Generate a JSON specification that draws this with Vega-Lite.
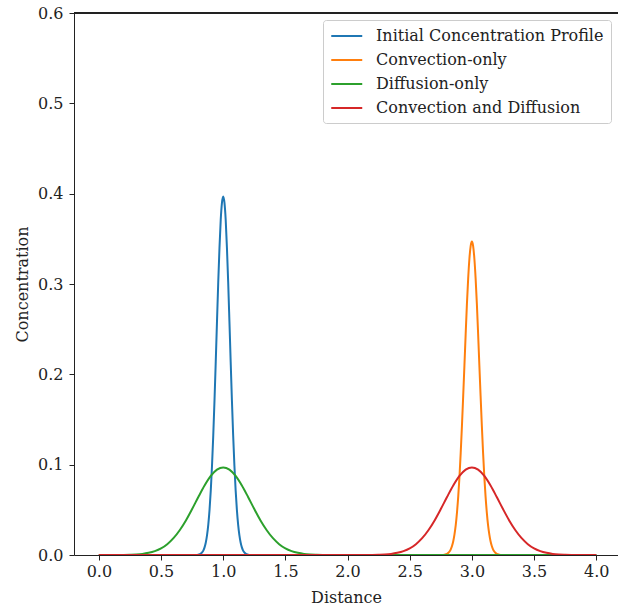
{
  "$schema": "https://vega.github.io/schema/vega-lite/v6.json",
  "width": 544,
  "height": 542,
  "autosize": {"type": "none"},
  "padding": {"left": 74, "top": 13, "right": 0, "bottom": 53},
  "background": "white",
  "config": {
    "view": {"stroke": null},
    "font": "DejaVu Serif",
    "axis": {
      "grid": false,
      "tickSize": 5,
      "labelFontSize": 16,
      "titleFontSize": 16,
      "titleFontWeight": "normal",
      "labelFont": "DejaVu Serif",
      "titleFont": "DejaVu Serif",
      "domainColor": "#222",
      "tickColor": "#222",
      "labelColor": "#222",
      "titleColor": "#222",
      "labelFlush": false
    }
  },
  "data": {
    "values": [
      {"series": "Initial Concentration Profile", "x": 0.0, "y": 0},
      {"series": "Initial Concentration Profile", "x": 0.5, "y": 0},
      {"series": "Initial Concentration Profile", "x": 0.78, "y": 0.0},
      {"series": "Initial Concentration Profile", "x": 0.80, "y": 0.0004},
      {"series": "Initial Concentration Profile", "x": 0.82, "y": 0.0015},
      {"series": "Initial Concentration Profile", "x": 0.83, "y": 0.0028},
      {"series": "Initial Concentration Profile", "x": 0.84, "y": 0.0049},
      {"series": "Initial Concentration Profile", "x": 0.85, "y": 0.0084},
      {"series": "Initial Concentration Profile", "x": 0.86, "y": 0.0138},
      {"series": "Initial Concentration Profile", "x": 0.87, "y": 0.0219},
      {"series": "Initial Concentration Profile", "x": 0.88, "y": 0.0336},
      {"series": "Initial Concentration Profile", "x": 0.89, "y": 0.0499},
      {"series": "Initial Concentration Profile", "x": 0.90, "y": 0.0715},
      {"series": "Initial Concentration Profile", "x": 0.91, "y": 0.0990},
      {"series": "Initial Concentration Profile", "x": 0.92, "y": 0.1325},
      {"series": "Initial Concentration Profile", "x": 0.93, "y": 0.1713},
      {"series": "Initial Concentration Profile", "x": 0.94, "y": 0.2141},
      {"series": "Initial Concentration Profile", "x": 0.95, "y": 0.2586},
      {"series": "Initial Concentration Profile", "x": 0.96, "y": 0.302},
      {"series": "Initial Concentration Profile", "x": 0.97, "y": 0.340},
      {"series": "Initial Concentration Profile", "x": 0.98, "y": 0.371},
      {"series": "Initial Concentration Profile", "x": 0.99, "y": 0.390},
      {"series": "Initial Concentration Profile", "x": 1.00, "y": 0.397},
      {"series": "Initial Concentration Profile", "x": 1.01, "y": 0.390},
      {"series": "Initial Concentration Profile", "x": 1.02, "y": 0.371},
      {"series": "Initial Concentration Profile", "x": 1.03, "y": 0.340},
      {"series": "Initial Concentration Profile", "x": 1.04, "y": 0.302},
      {"series": "Initial Concentration Profile", "x": 1.05, "y": 0.2586},
      {"series": "Initial Concentration Profile", "x": 1.06, "y": 0.2141},
      {"series": "Initial Concentration Profile", "x": 1.07, "y": 0.1713},
      {"series": "Initial Concentration Profile", "x": 1.08, "y": 0.1325},
      {"series": "Initial Concentration Profile", "x": 1.09, "y": 0.0990},
      {"series": "Initial Concentration Profile", "x": 1.10, "y": 0.0715},
      {"series": "Initial Concentration Profile", "x": 1.11, "y": 0.0499},
      {"series": "Initial Concentration Profile", "x": 1.12, "y": 0.0336},
      {"series": "Initial Concentration Profile", "x": 1.13, "y": 0.0219},
      {"series": "Initial Concentration Profile", "x": 1.14, "y": 0.0138},
      {"series": "Initial Concentration Profile", "x": 1.15, "y": 0.0084},
      {"series": "Initial Concentration Profile", "x": 1.16, "y": 0.0049},
      {"series": "Initial Concentration Profile", "x": 1.17, "y": 0.0028},
      {"series": "Initial Concentration Profile", "x": 1.18, "y": 0.0015},
      {"series": "Initial Concentration Profile", "x": 1.20, "y": 0.0004},
      {"series": "Initial Concentration Profile", "x": 1.22, "y": 0.0},
      {"series": "Initial Concentration Profile", "x": 1.5, "y": 0},
      {"series": "Initial Concentration Profile", "x": 4.0, "y": 0},

      {"series": "Convection-only", "x": 0.0, "y": 0},
      {"series": "Convection-only", "x": 2.5, "y": 0},
      {"series": "Convection-only", "x": 2.76, "y": 0.0},
      {"series": "Convection-only", "x": 2.78, "y": 0.0004},
      {"series": "Convection-only", "x": 2.80, "y": 0.0013},
      {"series": "Convection-only", "x": 2.82, "y": 0.0039},
      {"series": "Convection-only", "x": 2.83, "y": 0.0063},
      {"series": "Convection-only", "x": 2.84, "y": 0.0099},
      {"series": "Convection-only", "x": 2.85, "y": 0.0152},
      {"series": "Convection-only", "x": 2.86, "y": 0.0228},
      {"series": "Convection-only", "x": 2.87, "y": 0.033},
      {"series": "Convection-only", "x": 2.88, "y": 0.047},
      {"series": "Convection-only", "x": 2.89, "y": 0.0646},
      {"series": "Convection-only", "x": 2.90, "y": 0.0865},
      {"series": "Convection-only", "x": 2.91, "y": 0.113},
      {"series": "Convection-only", "x": 2.92, "y": 0.143},
      {"series": "Convection-only", "x": 2.93, "y": 0.176},
      {"series": "Convection-only", "x": 2.94, "y": 0.210},
      {"series": "Convection-only", "x": 2.95, "y": 0.245},
      {"series": "Convection-only", "x": 2.96, "y": 0.278},
      {"series": "Convection-only", "x": 2.97, "y": 0.306},
      {"series": "Convection-only", "x": 2.98, "y": 0.328},
      {"series": "Convection-only", "x": 2.99, "y": 0.342},
      {"series": "Convection-only", "x": 3.00, "y": 0.347},
      {"series": "Convection-only", "x": 3.01, "y": 0.342},
      {"series": "Convection-only", "x": 3.02, "y": 0.328},
      {"series": "Convection-only", "x": 3.03, "y": 0.306},
      {"series": "Convection-only", "x": 3.04, "y": 0.278},
      {"series": "Convection-only", "x": 3.05, "y": 0.245},
      {"series": "Convection-only", "x": 3.06, "y": 0.210},
      {"series": "Convection-only", "x": 3.07, "y": 0.176},
      {"series": "Convection-only", "x": 3.08, "y": 0.143},
      {"series": "Convection-only", "x": 3.09, "y": 0.113},
      {"series": "Convection-only", "x": 3.10, "y": 0.0865},
      {"series": "Convection-only", "x": 3.11, "y": 0.0646},
      {"series": "Convection-only", "x": 3.12, "y": 0.047},
      {"series": "Convection-only", "x": 3.13, "y": 0.033},
      {"series": "Convection-only", "x": 3.14, "y": 0.0228},
      {"series": "Convection-only", "x": 3.15, "y": 0.0152},
      {"series": "Convection-only", "x": 3.16, "y": 0.0099},
      {"series": "Convection-only", "x": 3.17, "y": 0.0063},
      {"series": "Convection-only", "x": 3.18, "y": 0.0039},
      {"series": "Convection-only", "x": 3.20, "y": 0.0013},
      {"series": "Convection-only", "x": 3.22, "y": 0.0004},
      {"series": "Convection-only", "x": 3.24, "y": 0.0},
      {"series": "Convection-only", "x": 3.5, "y": 0},
      {"series": "Convection-only", "x": 4.0, "y": 0},

      {"series": "Diffusion-only", "x": 0.0, "y": 0},
      {"series": "Diffusion-only", "x": 0.10, "y": 0},
      {"series": "Diffusion-only", "x": 0.20, "y": 0.0001},
      {"series": "Diffusion-only", "x": 0.25, "y": 0.0003},
      {"series": "Diffusion-only", "x": 0.30, "y": 0.0006},
      {"series": "Diffusion-only", "x": 0.35, "y": 0.0012},
      {"series": "Diffusion-only", "x": 0.40, "y": 0.0024},
      {"series": "Diffusion-only", "x": 0.45, "y": 0.0043},
      {"series": "Diffusion-only", "x": 0.50, "y": 0.0073},
      {"series": "Diffusion-only", "x": 0.55, "y": 0.0120},
      {"series": "Diffusion-only", "x": 0.60, "y": 0.0186},
      {"series": "Diffusion-only", "x": 0.65, "y": 0.0274},
      {"series": "Diffusion-only", "x": 0.70, "y": 0.0383},
      {"series": "Diffusion-only", "x": 0.75, "y": 0.0509},
      {"series": "Diffusion-only", "x": 0.80, "y": 0.0642},
      {"series": "Diffusion-only", "x": 0.85, "y": 0.0769},
      {"series": "Diffusion-only", "x": 0.90, "y": 0.0875},
      {"series": "Diffusion-only", "x": 0.95, "y": 0.0945},
      {"series": "Diffusion-only", "x": 1.00, "y": 0.097},
      {"series": "Diffusion-only", "x": 1.05, "y": 0.0945},
      {"series": "Diffusion-only", "x": 1.10, "y": 0.0875},
      {"series": "Diffusion-only", "x": 1.15, "y": 0.0769},
      {"series": "Diffusion-only", "x": 1.20, "y": 0.0642},
      {"series": "Diffusion-only", "x": 1.25, "y": 0.0509},
      {"series": "Diffusion-only", "x": 1.30, "y": 0.0383},
      {"series": "Diffusion-only", "x": 1.35, "y": 0.0274},
      {"series": "Diffusion-only", "x": 1.40, "y": 0.0186},
      {"series": "Diffusion-only", "x": 1.45, "y": 0.0120},
      {"series": "Diffusion-only", "x": 1.50, "y": 0.0073},
      {"series": "Diffusion-only", "x": 1.55, "y": 0.0043},
      {"series": "Diffusion-only", "x": 1.60, "y": 0.0024},
      {"series": "Diffusion-only", "x": 1.65, "y": 0.0012},
      {"series": "Diffusion-only", "x": 1.70, "y": 0.0006},
      {"series": "Diffusion-only", "x": 1.75, "y": 0.0003},
      {"series": "Diffusion-only", "x": 1.80, "y": 0.0001},
      {"series": "Diffusion-only", "x": 1.90, "y": 0},
      {"series": "Diffusion-only", "x": 4.0, "y": 0},

      {"series": "Convection and Diffusion", "x": 0.0, "y": 0},
      {"series": "Convection and Diffusion", "x": 2.10, "y": 0},
      {"series": "Convection and Diffusion", "x": 2.20, "y": 0.0001},
      {"series": "Convection and Diffusion", "x": 2.25, "y": 0.0003},
      {"series": "Convection and Diffusion", "x": 2.30, "y": 0.0006},
      {"series": "Convection and Diffusion", "x": 2.35, "y": 0.0012},
      {"series": "Convection and Diffusion", "x": 2.40, "y": 0.0024},
      {"series": "Convection and Diffusion", "x": 2.45, "y": 0.0043},
      {"series": "Convection and Diffusion", "x": 2.50, "y": 0.0073},
      {"series": "Convection and Diffusion", "x": 2.55, "y": 0.0120},
      {"series": "Convection and Diffusion", "x": 2.60, "y": 0.0186},
      {"series": "Convection and Diffusion", "x": 2.65, "y": 0.0274},
      {"series": "Convection and Diffusion", "x": 2.70, "y": 0.0383},
      {"series": "Convection and Diffusion", "x": 2.75, "y": 0.0509},
      {"series": "Convection and Diffusion", "x": 2.80, "y": 0.0642},
      {"series": "Convection and Diffusion", "x": 2.85, "y": 0.0769},
      {"series": "Convection and Diffusion", "x": 2.90, "y": 0.0875},
      {"series": "Convection and Diffusion", "x": 2.95, "y": 0.0945},
      {"series": "Convection and Diffusion", "x": 3.00, "y": 0.097},
      {"series": "Convection and Diffusion", "x": 3.05, "y": 0.0945},
      {"series": "Convection and Diffusion", "x": 3.10, "y": 0.0875},
      {"series": "Convection and Diffusion", "x": 3.15, "y": 0.0769},
      {"series": "Convection and Diffusion", "x": 3.20, "y": 0.0642},
      {"series": "Convection and Diffusion", "x": 3.25, "y": 0.0509},
      {"series": "Convection and Diffusion", "x": 3.30, "y": 0.0383},
      {"series": "Convection and Diffusion", "x": 3.35, "y": 0.0274},
      {"series": "Convection and Diffusion", "x": 3.40, "y": 0.0186},
      {"series": "Convection and Diffusion", "x": 3.45, "y": 0.0120},
      {"series": "Convection and Diffusion", "x": 3.50, "y": 0.0073},
      {"series": "Convection and Diffusion", "x": 3.55, "y": 0.0043},
      {"series": "Convection and Diffusion", "x": 3.60, "y": 0.0024},
      {"series": "Convection and Diffusion", "x": 3.65, "y": 0.0012},
      {"series": "Convection and Diffusion", "x": 3.70, "y": 0.0006},
      {"series": "Convection and Diffusion", "x": 3.75, "y": 0.0003},
      {"series": "Convection and Diffusion", "x": 3.80, "y": 0.0001},
      {"series": "Convection and Diffusion", "x": 3.90, "y": 0},
      {"series": "Convection and Diffusion", "x": 4.0, "y": 0}
    ]
  },
  "layer": [
    {
      "transform": [{"filter": "datum.series === 'Initial Concentration Profile'"}],
      "mark": {"type": "line", "strokeWidth": 2, "interpolate": "monotone", "clip": true},
      "encoding": {
        "x": {"field": "x", "type": "quantitative", "scale": {"domain": [-0.2, 4.175], "nice": false, "zero": false},
              "axis": {"title": "Distance", "values": [0, 0.5, 1, 1.5, 2, 2.5, 3, 3.5, 4], "format": ".1f", "labelPadding": 3, "titlePadding": 10}},
        "y": {"field": "y", "type": "quantitative", "scale": {"domain": [0, 0.6], "nice": false},
              "axis": {"title": "Concentration", "values": [0, 0.1, 0.2, 0.3, 0.4, 0.5, 0.6], "format": ".1f", "labelPadding": 6, "titlePadding": 7}},
        "color": {"field": "series", "type": "nominal",
                  "scale": {"domain": ["Initial Concentration Profile", "Convection-only", "Diffusion-only", "Convection and Diffusion"],
                            "range": ["#1f77b4", "#ff7f0e", "#2ca02c", "#d62728"]},
                  "legend": {"title": null, "orient": "top-right", "offset": 7, "symbolType": "M-1,0H3", "symbolSize": 240,
                             "symbolStrokeWidth": 2, "labelFontSize": 16, "labelFont": "DejaVu Serif", "labelColor": "#222",
                             "fillColor": "white", "strokeColor": "#cccccc", "padding": 7, "cornerRadius": 3,
                             "rowPadding": 7, "labelOffset": 28, "labelLimit": 400}}
      }
    },
    {
      "transform": [{"filter": "datum.series === 'Convection-only'"}],
      "mark": {"type": "line", "strokeWidth": 2, "interpolate": "monotone", "clip": true},
      "encoding": {
        "x": {"field": "x", "type": "quantitative"},
        "y": {"field": "y", "type": "quantitative"},
        "color": {"field": "series", "type": "nominal"}
      }
    },
    {
      "transform": [{"filter": "datum.series === 'Diffusion-only'"}],
      "mark": {"type": "line", "strokeWidth": 2, "interpolate": "monotone", "clip": true},
      "encoding": {
        "x": {"field": "x", "type": "quantitative"},
        "y": {"field": "y", "type": "quantitative"},
        "color": {"field": "series", "type": "nominal"}
      }
    },
    {
      "transform": [{"filter": "datum.series === 'Convection and Diffusion'"}],
      "mark": {"type": "line", "strokeWidth": 2, "interpolate": "monotone", "clip": true},
      "encoding": {
        "x": {"field": "x", "type": "quantitative"},
        "y": {"field": "y", "type": "quantitative"},
        "color": {"field": "series", "type": "nominal"}
      }
    },
    {
      "mark": {"type": "rule", "color": "#222", "strokeWidth": 1},
      "encoding": {"y": {"datum": 0.6}}
    }
  ]
}
